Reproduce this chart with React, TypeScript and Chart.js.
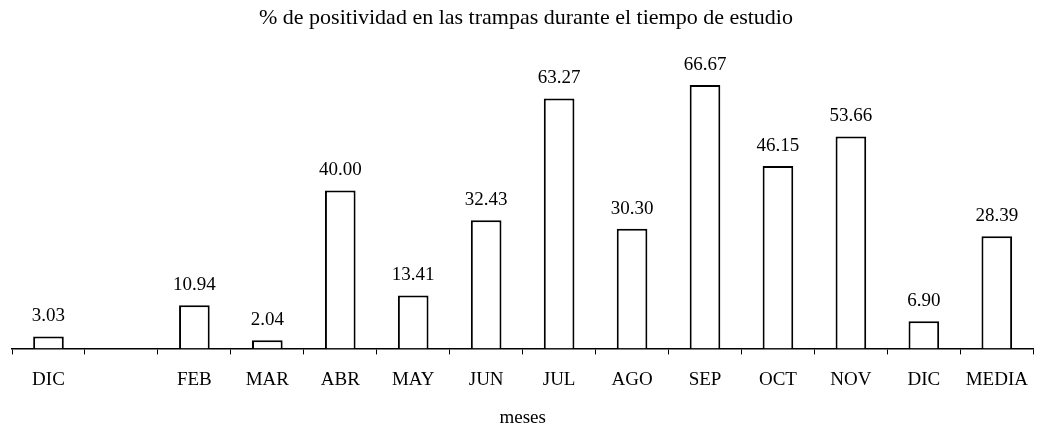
import React, { useEffect, useRef } from "react";
import { Chart, registerables } from "chart.js";

Chart.register(...registerables);

const chartTitle = "% de positividad en las trampas durante el tiempo de estudio";
const xAxisTitle = "meses";
const categories = ["DIC", "", "FEB", "MAR", "ABR", "MAY", "JUN", "JUL", "AGO", "SEP", "OCT", "NOV", "DIC", "MEDIA"];
const positividad: (number | null)[] = [3.03, null, 10.94, 2.04, 40.0, 13.41, 32.43, 63.27, 30.3, 66.67, 46.15, 53.66, 6.9, 28.39];

const FONT = "'Liberation Serif', 'Times New Roman', serif";

const valueLabels = {
  id: "valueLabels",
  afterDatasetsDraw(chart: any) {
    const ctx = chart.ctx;
    const meta = chart.getDatasetMeta(0);
    const data = chart.data.datasets[0].data;
    ctx.save();
    ctx.font = `19px ${FONT}`;
    ctx.fillStyle = "#000";
    ctx.textAlign = "center";
    ctx.textBaseline = "alphabetic";
    meta.data.forEach((el: any, i: number) => {
      const v = data[i];
      if (v === null || v === undefined) return;
      ctx.fillText(Number(v).toFixed(2), el.x, el.y - 15);
    });
    ctx.restore();
  },
};

export default function App() {
  const ref = useRef<HTMLCanvasElement | null>(null);
  useEffect(() => {
    if (!ref.current) return;
    const chart = new Chart(ref.current, {
      type: "bar",
      data: {
        labels: categories,
        datasets: [
          {
            data: positividad,
            backgroundColor: "#ffffff",
            borderColor: "#000000",
            borderWidth: 2,
            categoryPercentage: 1,
            barPercentage: 0.42,
          },
        ],
      },
      options: {
        animation: false,
        responsive: true,
        maintainAspectRatio: false,
        layout: { padding: { left: 12, right: 2, top: 0, bottom: 0 } },
        plugins: {
          legend: { display: false },
          tooltip: { enabled: false },
          title: {
            display: true,
            text: chartTitle,
            color: "#000",
            font: { family: FONT, size: 22, weight: "normal" },
            padding: { top: 5, bottom: 1 },
          },
        },
        scales: {
          x: {
            offset: true,
            grid: {
              display: true,
              offset: true,
              drawOnChartArea: false,
              drawTicks: true,
              tickLength: 6,
              color: "#000",
              lineWidth: 1,
            },
            border: { display: true, color: "#000", width: 1.5 },
            ticks: {
              autoSkip: false,
              maxRotation: 0,
              color: "#000",
              padding: 14,
              font: { family: FONT, size: 19 },
            },
            title: {
              display: true,
              text: xAxisTitle,
              color: "#000",
              font: { family: FONT, size: 19 },
              padding: { top: 1, bottom: 0 },
            },
          },
          y: {
            display: false,
            min: 0,
            max: 80,
          },
        },
      },
      plugins: [valueLabels],
    });
    return () => chart.destroy();
  }, []);
  return (
    <div style={{ position: "fixed", left: 0, top: 0, width: 1042, height: 429, background: "#fff" }}>
      <canvas ref={ref} />
    </div>
  );
}
